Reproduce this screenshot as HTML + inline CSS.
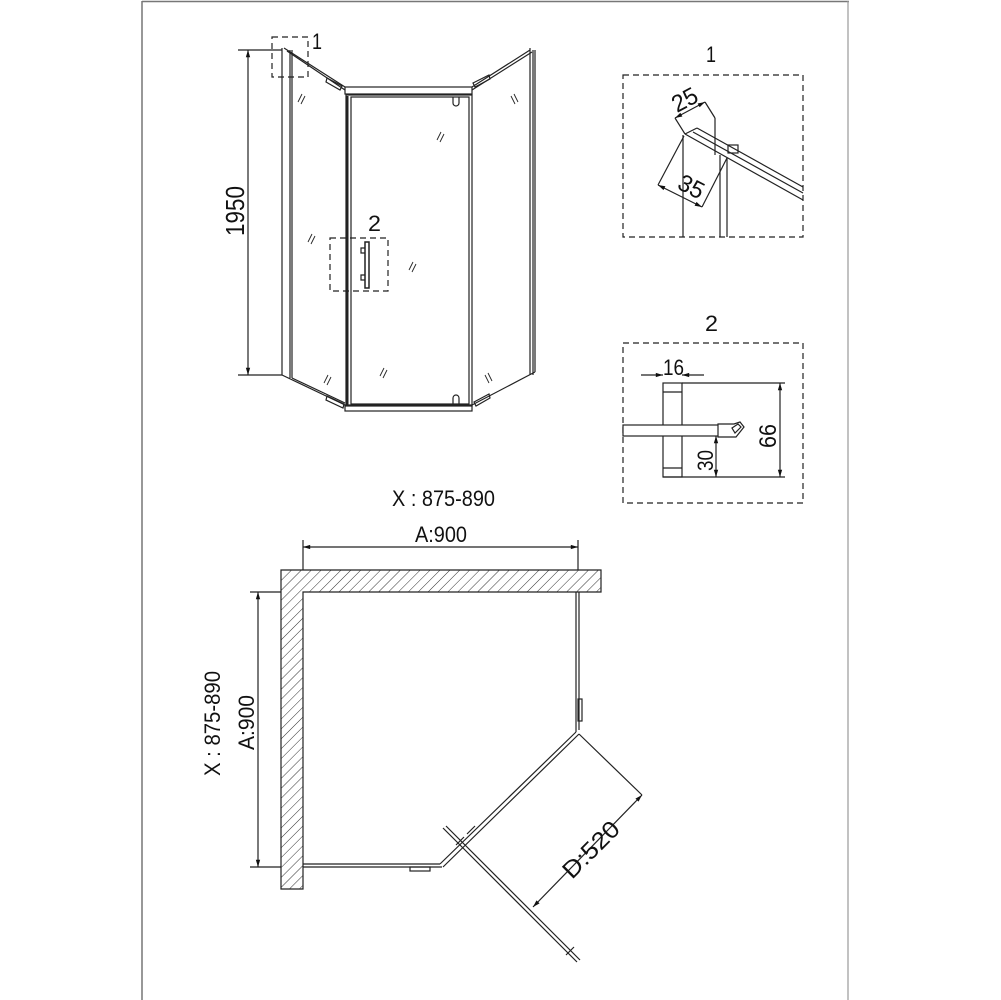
<!DOCTYPE html>
<html><head><meta charset="utf-8"><style>
html,body{margin:0;padding:0;background:#fff}
svg{display:block}
text{font-family:"Liberation Sans",sans-serif;fill:#111}
</style></head><body>
<svg width="1001" height="1000" viewBox="0 0 1001 1000" xmlns="http://www.w3.org/2000/svg">
<defs>
<pattern id="h" width="7" height="7" patternUnits="userSpaceOnUse" patternTransform="rotate(45)">
<line x1="0" y1="0" x2="0" y2="7" stroke="#333" stroke-width="1"/>
</pattern>
<marker id="a" viewBox="0 0 10 10" refX="10" refY="5" markerWidth="8" markerHeight="6" orient="auto-start-reverse"><path d="M0,2L10,5L0,8z" fill="#111"/></marker>
</defs>
<line x1="142" y1="1" x2="142" y2="1000" stroke="#777" stroke-width="1.5"/>
<line x1="142" y1="1.5" x2="849" y2="1.5" stroke="#777" stroke-width="1.5"/>
<line x1="848" y1="1" x2="848" y2="1000" stroke="#999" stroke-width="1.2"/>

<g fill="none" stroke="#222" stroke-width="1.2">
<line x1="248" y1="50" x2="248" y2="375" marker-start="url(#a)" marker-end="url(#a)"/>
<line x1="238" y1="50" x2="282" y2="50"/>
<line x1="238" y1="375" x2="282" y2="375"/>
<line x1="282" y1="48" x2="282" y2="375"/>
<line x1="290" y1="50" x2="290" y2="378"/>
<line x1="292" y1="50" x2="292" y2="378"/>
<line x1="284" y1="48" x2="345" y2="87"/>
<line x1="287" y1="51" x2="345" y2="90"/>
<path d="M327,78 L342,86 L340,90 L326,82z"/>
<rect x="345" y="87" width="127" height="7"/>
<rect x="346" y="95" width="126" height="311"/>
<rect x="351" y="97" width="118" height="307"/>
<line x1="347" y1="96" x2="347" y2="405" stroke-width="3"/>
<path d="M453,97 v6 a3,3 0 0 0 6,0 v-6"/>
<path d="M453,404 v-6 a3,3 0 0 1 6,0 v6"/>
<line x1="472" y1="87" x2="530" y2="50"/>
<line x1="472" y1="90" x2="532" y2="52"/>
<path d="M473,83 L489,75 L490,79 L475,87z"/>
<line x1="530" y1="48" x2="530" y2="375"/>
<line x1="533" y1="50" x2="533" y2="375"/>
<line x1="535" y1="50" x2="535" y2="372"/>
<line x1="282" y1="375" x2="345" y2="405"/>
<line x1="292" y1="378" x2="345" y2="403"/>
<path d="M327,396 L344,404 L343,408 L326,400z"/>
<rect x="345" y="405" width="127" height="6"/>
<line x1="472" y1="405" x2="535" y2="372"/>
<path d="M474,402 L489,394 L490,398 L476,406z"/>
<rect x="365" y="242" width="4" height="46" stroke-width="1.5"/>
<path d="M365,248 h-4 v5 h4 M365,275 h-4 v5 h4"/>
<g stroke-dasharray="6,4">
<rect x="272" y="37" width="36" height="40"/>
<rect x="330" y="238" width="58" height="53"/>
<rect x="623" y="75" width="180" height="162"/>
<rect x="623" y="343" width="180" height="160"/>
</g>
<g stroke-width="0.9">
<path d="M298,102l4,-8 M301,104l4,-8"/><path d="M308,242l4,-8 M311,244l4,-8"/><path d="M324,383l4,-8 M327,385l4,-8"/>
<path d="M437,140l4,-8 M440,142l4,-8"/><path d="M409,270l4,-8 M412,272l4,-8"/><path d="M380,376l4,-8 M383,378l4,-8"/>
<path d="M511,96l4,8 M514,94l4,8"/><path d="M485,375l4,8 M488,373l4,8"/>
</g>

<line x1="683" y1="135" x2="683" y2="237"/>
<line x1="720" y1="155" x2="720" y2="237"/>
<line x1="727" y1="158" x2="727" y2="237"/>
<line x1="715" y1="118" x2="715" y2="155"/>
<line x1="685" y1="134" x2="803" y2="200"/>
<line x1="693" y1="132" x2="803" y2="193"/>
<line x1="697" y1="128" x2="803" y2="187"/>
<line x1="685" y1="134" x2="697" y2="128"/>
<rect x="728" y="145" width="10" height="8"/>
<line x1="675" y1="118" x2="705" y2="102" marker-start="url(#a)" marker-end="url(#a)"/>
<line x1="675" y1="118" x2="685" y2="134"/>
<line x1="705" y1="102" x2="715" y2="118"/>
<line x1="658" y1="185" x2="702" y2="207" marker-start="url(#a)" marker-end="url(#a)"/>
<line x1="658" y1="185" x2="684" y2="136"/>
<line x1="702" y1="207" x2="727" y2="158"/>

<rect x="663" y="383" width="19" height="94"/>
<line x1="663" y1="392" x2="682" y2="392"/><line x1="663" y1="468" x2="682" y2="468"/>
<rect x="623" y="425" width="97" height="11" fill="#fff"/>
<path d="M718,424 h16 l6,-2 l4,5 l-8,10 h-18z" fill="#fff"/>
<path d="M732,428 l6,-4 l3,3 l-6,6z"/>
<line x1="682" y1="383" x2="785" y2="383"/>
<line x1="663" y1="477" x2="785" y2="477"/>
<line x1="780" y1="383" x2="780" y2="477" marker-start="url(#a)" marker-end="url(#a)"/>
<line x1="716" y1="436" x2="716" y2="477" marker-start="url(#a)" marker-end="url(#a)"/>
<line x1="641" y1="375" x2="663" y2="375" marker-end="url(#a)"/>
<line x1="704" y1="375" x2="682" y2="375" marker-end="url(#a)"/>

<path d="M281,570 H601 V592 H303 V889 H281z" fill="url(#h)"/>
<line x1="303" y1="547" x2="578" y2="547" marker-start="url(#a)" marker-end="url(#a)"/>
<line x1="303" y1="540" x2="303" y2="570"/>
<line x1="578" y1="540" x2="578" y2="570"/>
<line x1="258" y1="592" x2="258" y2="867" marker-start="url(#a)" marker-end="url(#a)"/>
<line x1="250" y1="592" x2="281" y2="592"/>
<line x1="250" y1="867" x2="281" y2="867"/>
<line x1="576" y1="592" x2="576" y2="732"/>
<line x1="579" y1="592" x2="579" y2="730"/>
<rect x="578" y="699" width="4" height="22"/>
<line x1="303" y1="864" x2="440" y2="864"/>
<line x1="303" y1="867" x2="442" y2="867"/>
<rect x="410" y="867" width="20" height="4"/>
<line x1="440" y1="864" x2="576" y2="732"/>
<line x1="443" y1="867" x2="579" y2="734"/>
<line x1="443" y1="828" x2="577" y2="962"/>
<line x1="446" y1="826" x2="580" y2="960"/>
<path d="M456,845 l8,-8 M467,834 l8,-8 M566,955 l8,-8"/>
<line x1="579" y1="734" x2="642" y2="795"/>
<line x1="642" y1="795" x2="533" y2="907" marker-start="url(#a)" marker-end="url(#a)"/>
</g>

<text x="312" y="49" font-size="22" textLength="10" lengthAdjust="spacingAndGlyphs">1</text>
<text x="368" y="231" font-size="22" textLength="13" lengthAdjust="spacingAndGlyphs">2</text>
<text x="706" y="62" font-size="22" textLength="10" lengthAdjust="spacingAndGlyphs">1</text>
<text x="705" y="331" font-size="22" textLength="13" lengthAdjust="spacingAndGlyphs">2</text>
<text transform="translate(244,236) rotate(-90)" font-size="26" textLength="50" lengthAdjust="spacingAndGlyphs">1950</text>
<text transform="translate(677,113) rotate(-28)" font-size="24" textLength="26" lengthAdjust="spacingAndGlyphs">25</text>
<text transform="translate(676,188) rotate(27)" font-size="24" textLength="26" lengthAdjust="spacingAndGlyphs">35</text>
<text x="663" y="375" font-size="22" textLength="21" lengthAdjust="spacingAndGlyphs">16</text>
<text transform="translate(776,448) rotate(-90)" font-size="24" textLength="24" lengthAdjust="spacingAndGlyphs">66</text>
<text transform="translate(713,471) rotate(-90)" font-size="22" textLength="21" lengthAdjust="spacingAndGlyphs">30</text>
<text x="392" y="506" font-size="22" textLength="103" lengthAdjust="spacingAndGlyphs">X : 875-890</text>
<text x="415" y="542" font-size="22" textLength="52" lengthAdjust="spacingAndGlyphs">A:900</text>
<text transform="translate(220,776) rotate(-90)" font-size="22" textLength="105" lengthAdjust="spacingAndGlyphs">X : 875-890</text>
<text transform="translate(254,750) rotate(-90)" font-size="22" textLength="55" lengthAdjust="spacingAndGlyphs">A:900</text>
<text transform="translate(572,880) rotate(-45)" font-size="24" textLength="70" lengthAdjust="spacingAndGlyphs">D:520</text>
</svg>
</body></html>
